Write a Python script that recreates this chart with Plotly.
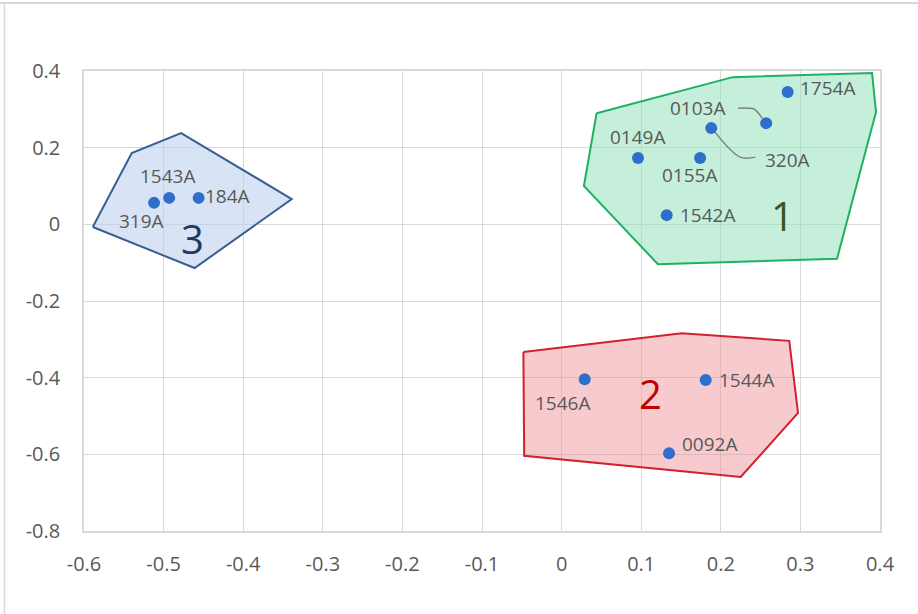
import plotly.graph_objects as go

# Sample coordinates on the first two principal axes
names = ["1754A", "0103A", "320A", "0149A", "0155A", "1542A",
         "1546A", "1544A", "0092A", "319A", "1543A", "184A"]
x_vals = [0.284, 0.257, 0.188, 0.096, 0.174, 0.132,
          0.029, 0.181, 0.135, -0.512, -0.493, -0.456]
y_vals = [0.345, 0.264, 0.251, 0.173, 0.173, 0.024,
          -0.404, -0.406, -0.597, 0.056, 0.069, 0.069]

# Cluster hulls
hull1_x = [0.044, 0.215, 0.390, 0.395, 0.346, 0.121, 0.028]
hull1_y = [0.290, 0.384, 0.395, 0.293, -0.090, -0.104, 0.100]
hull2_x = [-0.048, 0.151, 0.286, 0.297, 0.225, -0.047]
hull2_y = [-0.333, -0.284, -0.304, -0.492, -0.659, -0.604]
hull3_x = [-0.589, -0.540, -0.478, -0.339, -0.461]
hull3_y = [-0.007, 0.186, 0.238, 0.066, -0.114]

cluster_ids = ["1", "2", "3"]
cluster_x = [0.278, 0.112, -0.464]
cluster_y = [0.024, -0.440, -0.036]

x_ticks = [-0.6, -0.5, -0.4, -0.3, -0.2, -0.1, 0, 0.1, 0.2, 0.3, 0.4]
x_tick_text = ["-0.6", "-0.5", "-0.4", "-0.3", "-0.2", "-0.1", "0", "0.1", "0.2", "0.3", "0.4"]
y_ticks = [-0.8, -0.6, -0.4, -0.2, 0, 0.2, 0.4]
y_tick_text = ["-0.8", "-0.6", "-0.4", "-0.2", "0", "0.2", "0.4"]

X_RANGE = [-0.6, 0.4]
Y_RANGE = [-0.8, 0.4]
W, H = 918, 614
M = dict(l=84, r=38, t=71, b=83)
PW = W - M["l"] - M["r"]
PH = H - M["t"] - M["b"]


def px_off(i, dx, dy):
    """Point i shifted by (dx, dy) screen pixels, in data units (dy down)."""
    return (x_vals[i] + dx * (X_RANGE[1] - X_RANGE[0]) / PW,
            y_vals[i] - dy * (Y_RANGE[1] - Y_RANGE[0]) / PH)


fig = go.Figure()

hulls = [
    (hull1_x, hull1_y, "rgba(150,225,190,0.55)", "#1DB25F"),
    (hull2_x, hull2_y, "rgba(238,140,145,0.45)", "#D2202E"),
    (hull3_x, hull3_y, "rgba(190,210,238,0.6)", "#3A5E93"),
]
for hx, hy, fillc, linec in hulls:
    fig.add_trace(go.Scatter(
        x=hx + hx[:1], y=hy + hy[:1], mode="lines", fill="toself",
        fillcolor=fillc, line=dict(color=linec, width=2),
        hoverinfo="skip", showlegend=False))

# Leader lines for the two crowded labels
i103 = names.index("0103A")
i320 = names.index("320A")
lead_a = [px_off(i103, -28, -15), px_off(i103, -18, -15), px_off(i103, -12, -14),
          px_off(i103, -4, -5)]
lead_b = [px_off(i320, 3, 3), px_off(i320, 29, 29), px_off(i320, 44, 29)]
for seg in (lead_a, lead_b):
    fig.add_trace(go.Scatter(
        x=[p[0] for p in seg], y=[p[1] for p in seg], mode="lines",
        line=dict(color="#7F7F7F", width=1.5, shape="spline"),
        hoverinfo="skip", showlegend=False))

fig.add_trace(go.Scatter(
    x=x_vals, y=y_vals, mode="markers", text=names,
    marker=dict(size=12, color="#2F6FCC"),
    hoverinfo="text", showlegend=False))

# label placement: (xanchor, xshift, yshift)
label_pos = {
    "1754A": ("left", 10, 4),
    "0103A": ("center", -69, 15),
    "320A": ("center", 76, -32),
    "0149A": ("center", -1, 21),
    "0155A": ("center", -11, -17),
    "1542A": ("left", 11, 0),
    "1546A": ("center", -22, -24),
    "1544A": ("left", 11, 0),
    "0092A": ("left", 11, 9),
    "319A": ("center", -13, -18),
    "1543A": ("center", -2, 22),
    "184A": ("left", 4, 2),
}
for n, xv, yv in zip(names, x_vals, y_vals):
    xa, xs, ys = label_pos[n]
    fig.add_annotation(x=xv, y=yv, text=n, showarrow=False,
                       xanchor=xa, yanchor="middle", xshift=xs, yshift=ys,
                       font=dict(family="Open Sans", size=19, color="#595959"))

cluster_colors = ["#375623", "#C00000", "#1F3864"]
for cid, cx, cy, cc in zip(cluster_ids, cluster_x, cluster_y, cluster_colors):
    fig.add_annotation(x=cx, y=cy, text=cid, showarrow=False,
                       font=dict(family="Open Sans", size=40, color=cc))

# Chart area frame (top and left edges)
fig.add_shape(type="line", xref="paper", yref="paper",
              x0=-0.12, x1=1.1, y0=1.148, y1=1.148,
              line=dict(color="#D9D9D9", width=2))
fig.add_shape(type="line", xref="paper", yref="paper",
              x0=-0.1, x1=-0.1, y0=-0.2, y1=1.148,
              line=dict(color="#D9D9D9", width=1.5))

axis_font = dict(family="Open Sans", size=20, color="#595959")
fig.update_xaxes(range=X_RANGE, tickvals=x_ticks, ticktext=x_tick_text,
                 showgrid=True, gridcolor="#D9D9D9", gridwidth=1,
                 zeroline=False, showline=True, linecolor="#D9D9D9",
                 linewidth=1.5, mirror=True, ticks="", tickfont=axis_font,
                 ticklabelstandoff=14)
fig.update_yaxes(range=Y_RANGE, tickvals=y_ticks, ticktext=y_tick_text,
                 showgrid=True, gridcolor="#D9D9D9", gridwidth=1,
                 zeroline=False, showline=True, linecolor="#D9D9D9",
                 linewidth=1.5, mirror=True, ticks="", tickfont=axis_font,
                 ticklabelstandoff=18)
fig.update_layout(width=W, height=H, margin=M,
                  paper_bgcolor="white", plot_bgcolor="white",
                  showlegend=False)

fig.write_html("out.html")
